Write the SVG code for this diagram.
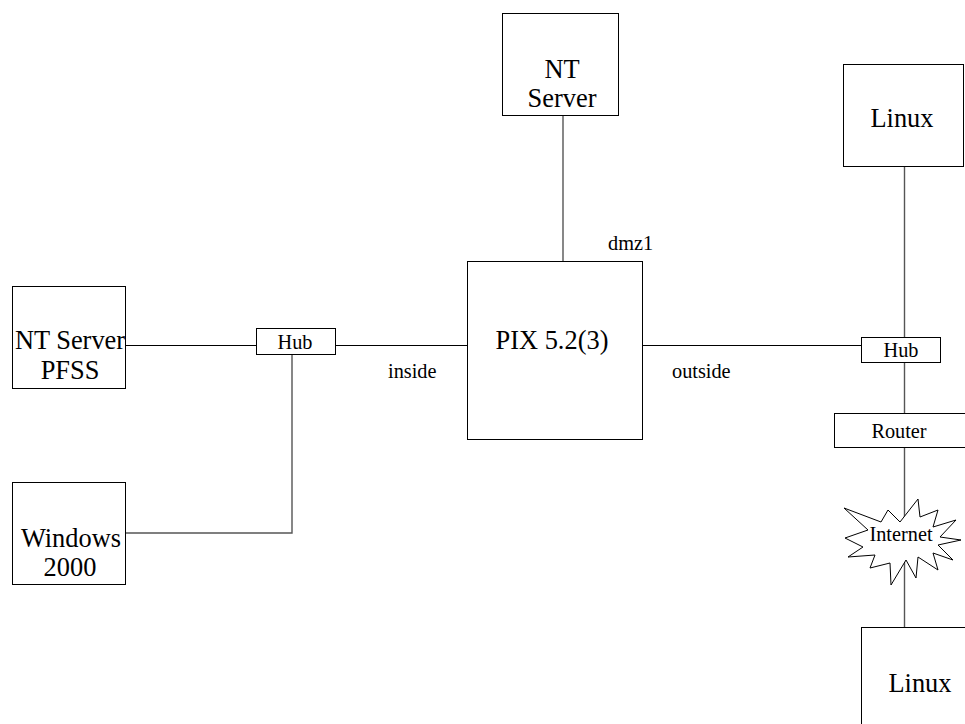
<svg xmlns="http://www.w3.org/2000/svg" width="965" height="724" viewBox="0 0 965 724" font-family="'Liberation Serif', 'Times New Roman', 'DejaVu Serif', serif">
<style>
.box{fill:#fff;stroke:#000;stroke-width:1}
.ln{fill:none;stroke:#000;stroke-width:1}
.vl{fill:none;stroke:#555;stroke-width:1.4}
text{font-family:'Liberation Serif', 'Times New Roman', serif;fill:#000}
.big{font-size:26.4px;text-anchor:middle}
.sm{font-size:20.3px;text-anchor:middle}
.lab{font-size:20.3px}
</style>
<rect width="965" height="724" fill="#fff"/>
<g id="connectors">
<path class="ln" d="M125.5 345.5H256.5"/>
<path class="ln" d="M335.5 345.5H467.5"/>
<path class="vl" d="M292 354V533H125"/>
<path class="vl" d="M563 115V261"/>
<path class="ln" d="M642.5 345.5H861.5"/>
<path class="vl" d="M904.5 166V337"/>
<path class="vl" d="M904.5 362V413"/>
<path class="vl" d="M904.5 447V627"/>
</g>
<g id="nt-server-pfss"><rect class="box" x="12.5" y="286.5" width="113" height="102"/><text class="big" x="70" y="349">NT Server</text><text class="big" x="70" y="379">PFSS</text></g>
<g id="windows-2000"><rect class="box" x="12.5" y="482.5" width="113" height="102"/><text class="big" x="71" y="547">Windows</text><text class="big" x="70" y="576">2000</text></g>
<g id="hub-left"><rect class="box" x="256.5" y="328.5" width="79" height="26"/><text class="sm" x="295" y="349">Hub</text></g>
<g id="nt-server"><rect class="box" x="502.5" y="13.5" width="116" height="102"/><text class="big" x="562" y="78">NT</text><text class="big" x="562" y="107">Server</text></g>
<g id="pix"><rect class="box" x="467.5" y="261.5" width="175" height="178"/><text class="big" x="552" y="349">PIX 5.2(3)</text></g>
<g id="labels">
<text class="lab" x="608" y="250">dmz1</text>
<text class="lab" x="388" y="378">inside</text>
<text class="lab" x="672" y="378">outside</text>
</g>
<g id="linux-top"><rect class="box" x="843.5" y="64.5" width="120" height="102"/><text class="big" x="902" y="127">Linux</text></g>
<g id="hub-right"><rect class="box" x="861.5" y="337.5" width="79" height="25"/><text class="sm" x="901" y="357">Hub</text></g>
<g id="router"><rect class="box" x="834.5" y="413.5" width="135" height="34"/><text class="sm" x="899" y="438">Router</text></g>
<g id="internet"><polygon class="box" points="844,508 881,522 888,510 900,522 918,499 920,517 938,510 933,527 956,520 940,537 961,540 938,545 953,560 933,553 938,570 918,557 916,578 906,560 891,585 890,563 870,568 875,555 848,557 863,547 845,538 868,530"/><text class="sm" x="901" y="541">Internet</text></g>
<g id="linux-bottom"><rect class="box" x="861.5" y="627.5" width="120" height="110"/><text class="big" x="920" y="692">Linux</text></g>
</svg>
